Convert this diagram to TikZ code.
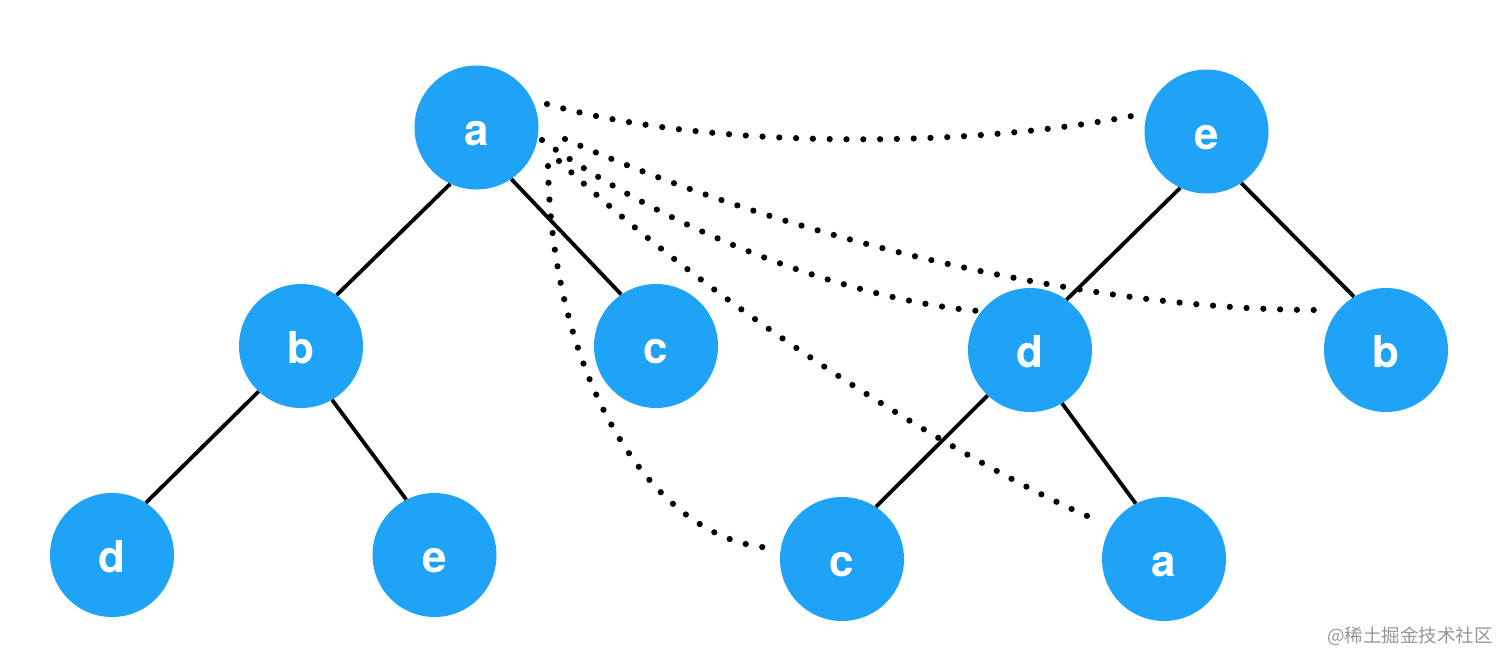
\documentclass[tikz,border=0pt]{standalone}
\usepackage{fontspec}
\setsansfont{TeX Gyre Heros}
\newfontfamily\cjk{Noto Sans CJK SC}
\usetikzlibrary{calc}
\definecolor{nodeblue}{RGB}{31,163,247}
\definecolor{wmgray}{RGB}{150,150,150}
\tikzset{
  tnode/.style={circle, fill=nodeblue, draw=none, minimum size=124pt, inner sep=0pt,
    text=white, font=\sffamily\bfseries\fontsize{44}{44}\selectfont,
    text height=35pt, text depth=0pt},
  edge/.style={line width=3.8pt, black},
  dotline/.style={line width=6.2pt, line cap=round, dash pattern=on 0pt off 16.8pt, black}
}
\begin{document}
\begin{tikzpicture}[x=1pt, y=-1pt]
\useasboundingbox (0,0) rectangle (1512,665);
% left tree
\node[tnode] (a) at (476.5,127.5) {a};
\node[tnode] (b) at (301,346) {b};
\node[tnode] (c) at (656,346) {c};
\node[tnode] (d) at (112,555) {d};
\node[tnode] (e) at (434.5,555) {e};
% right tree
\node[tnode] (Re) at (1206.5,131.5) {e};
\node[tnode] (Rd) at (1030,350) {d};
\node[tnode] (Rb) at (1386,350) {b};
\node[tnode] (Rc) at (842,559) {c};
\node[tnode] (Ra) at (1164,559) {a};
% edges
\draw[edge] (a.245) -- (b.55);
\draw[edge] (a.304) -- (c.124);
\draw[edge] (b.227) -- (d.57);
\draw[edge] (b.300) -- (e.117);
\draw[edge] (Re.245) -- (Rd.54);
\draw[edge] (Re.304) -- (Rb.121);
\draw[edge] (Rd.227) -- (Rc.57);
\draw[edge] (Rd.301) -- (Ra.117);
% dotted correspondences
\draw[dotline] ($(a)+(70.5,-23.5)$) .. controls (700,148) and (960,150) .. ($(Re)+(-69.5,-16.5)$);
\draw[dotline] ($(a)+(88.5,11.5)$) .. controls (780,235) and (1080,310) .. ($(Rb)+(-68,-40)$);
\draw[dotline] ($(a)+(65.5,12.5)$) .. controls (670,232) and (850,300) .. ($(Rd)+(-51,-39)$);
\draw[dotline] ($(a)+(82.5,33.5)$) .. controls (740,330) and (990,475) .. ($(Ra)+(-72,-41)$);
\draw[dotline] ($(a)+(71.5,38.5)$) .. controls (552,380) and (655,545) .. ($(Rc)+(-67,-11)$);
% watermark
\node[anchor=east, inner sep=0pt, text=wmgray, font=\cjk\fontsize{18.5}{18.5}\selectfont] (wm) at (1493,636) {@稀土掘金技术社区};
\end{tikzpicture}
\end{document}
